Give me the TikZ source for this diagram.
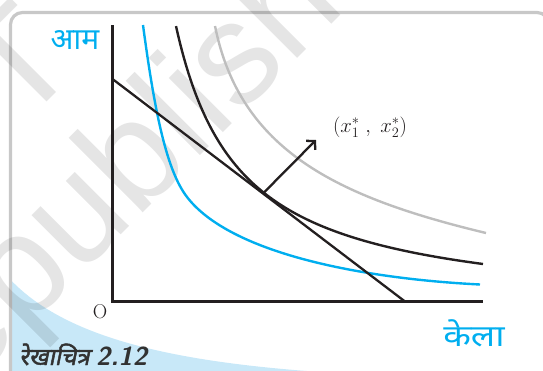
\documentclass[tikz,border=0pt]{standalone}
\usepackage{fontspec}
\usetikzlibrary{arrows.meta,calc}
\newfontfamily\deva[Script=Devanagari]{Noto Sans}
\newfontfamily\devacap[Script=Devanagari,FakeSlant=0.2,FakeBold=2]{Noto Sans}
\newfontfamily\wmfont{Liberation Sans}
\definecolor{icblue}{RGB}{0,174,239}
\definecolor{icgray}{RGB}{190,190,190}
\definecolor{icblack}{RGB}{35,31,32}
\definecolor{cornerblue}{RGB}{200,232,248}
\definecolor{framegray}{RGB}{200,200,200}
\definecolor{captext}{RGB}{50,50,50}
\tikzset{
  axisline/.style={icblack, line width=2.8pt},
  budgetline/.style={icblack, line width=2.3pt},
  curveblack/.style={icblack, line width=2.4pt},
  curveblue/.style={icblue, line width=2.4pt},
  curvegray/.style={icgray, line width=2.4pt},
  movearrow/.style={icblack, line width=2.3pt, -{Straight Barb[length=6pt,width=13pt]}},
  bluelabel/.style={text=icblue, font=\deva\fontsize{30}{30}\selectfont, inner sep=0pt},
  watermark/.style={rotate=45, text=black, text opacity=0.1, inner sep=0pt,
        font=\wmfont\fontsize{145}{145}\selectfont},
}
\begin{document}
\begin{tikzpicture}[x=1pt,y=-1pt]
\useasboundingbox (0,0) rectangle (543,370);
% frame and corner
\begin{scope}
  \clip[rounded corners=12pt] (10.5,12.5) rectangle (549,420);
  \fill[cornerblue] (8,277) .. controls (65,340) and (180,362) .. (320,372) -- (0,380) -- cycle;
\end{scope}
\draw[framegray, line width=3.2pt, rounded corners=12pt] (10.5,12.5) rectangle (549,420);
% watermark
\begin{scope}
  \clip (0,0) rectangle (543,370);
  \node[watermark, anchor=mid west] (wm) at (-70,423) {republished};
  \node[watermark, anchor=base] (wm2) at (52,97) {T};
\end{scope}
% axes
\coordinate (Ytop) at (112.5,25);
\coordinate (O) at (112.5,301.5);
\coordinate (Xend) at (483,301.5);
\draw[axisline] (Ytop) -- (O) -- (Xend);
\node[font=\fontsize{20}{20}\selectfont, text=icblack, inner sep=0pt] (Olab) at (100,312) {O};
\node[bluelabel] (yl) at (75,40) {आम};
\node[bluelabel] (xl) at (474,333) {\scalebox{1.2}[1]{केला}};
% indifference curves
\draw[curveblue] (143,25) .. controls (155,115) and (167,171) .. (187,197)
                 .. controls (230,253) and (360,278.5) .. (480,284.5);
\draw[curveblack] plot[domain=176:483, samples=150] (\x, {313.2-182.3/((\x-112.5)/100)});
\draw[curvegray] (215,26) .. controls (240,150) and (336,197) .. (486,233);
% budget line
\coordinate (B1) at (112.5,79);
\coordinate (B2) at (405,301.5);
\coordinate (T) at ($(B1)!0.5145!(B2)$);
\draw[budgetline] (B1) -- (B2);
% movement arrow
\coordinate (A) at (316,140);
\draw[movearrow] (T) -- (A);
\node[font=\fontsize{21}{21}\selectfont, text=icblack] (lab) at (370,127) {$(x^*_1\;,\;x^*_2)$};
% caption
\node[anchor=base west, text=captext, inner sep=0pt] (cap) at (19,365) {{\devacap\fontsize{24}{24}\selectfont रेखाचित्र}\ \ {\fontsize{26}{26}\selectfont\sffamily\bfseries\itshape 2.12}};
\end{tikzpicture}
\end{document}
